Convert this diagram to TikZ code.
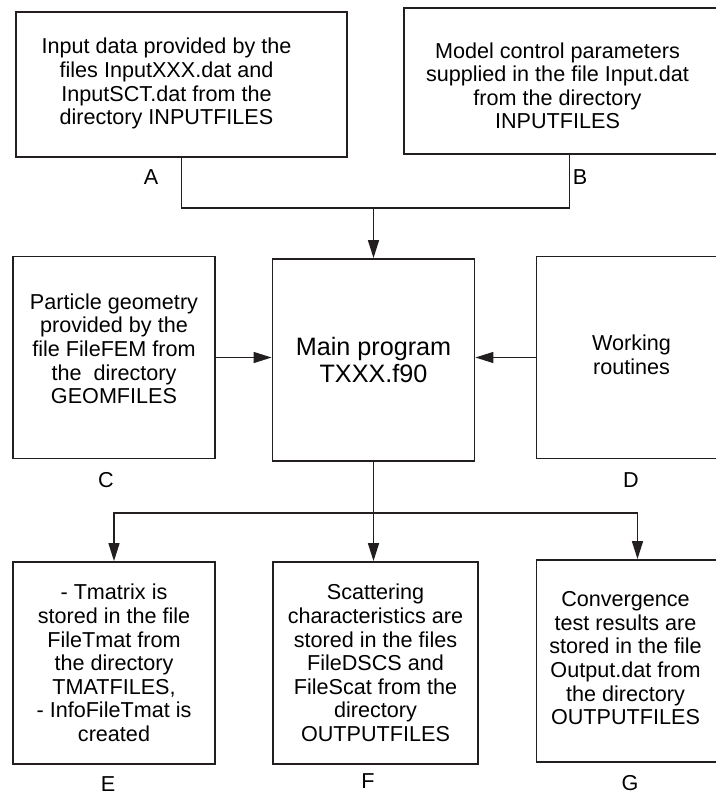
\documentclass[tikz,border=0pt]{standalone}
\usepackage{fontspec}
\setmainfont{Liberation Sans}
\usepackage{tikz}
\usetikzlibrary{arrows.meta, positioning, calc}
\definecolor{mydark}{RGB}{35,31,32}
% text block pushed left inside its box by #1
\newcommand{\lefttext}[2]{\begin{tabular}{@{}c@{}}#2\end{tabular}\hspace*{#1}}
\tikzset{
  fbox/.style={rectangle, draw=mydark, line width=0.9pt, inner sep=0pt,
    align=center, font=\fontsize{10.8}{11.8}\selectfont},
  wbox/.style={fbox, minimum width=165.5pt, minimum height=72.5pt},
  sbox/.style={fbox, minimum width=101pt, minimum height=101pt},
  mainbox/.style={sbox, font=\fontsize{12.6}{13.6}\selectfont},
  tag/.style={font=\fontsize{10.8}{11.8}\selectfont, inner sep=0pt},
  arrow/.style={-{Triangle[length=9pt,width=5.5pt]}, line width=0.7pt, color=mydark},
  line/.style={line width=0.7pt, color=mydark}
}

\begin{document}
\begin{tikzpicture}[x=0.5pt, y=-0.5pt]
  \useasboundingbox (0,0) rectangle (716,794);
  \clip (0,0) rectangle (716,794);

  % Input boxes
  \node[wbox] (A) at (181.5, 84.5) {\lefttext{15pt}{Input data provided by the\\files InputXXX.dat and\\InputSCT.dat from the\\directory INPUTFILES}};
  \node[wbox, minimum height=73pt] (B) at (569.5, 81) {\lefttext{12pt}{\\[-4pt]Model control parameters\\supplied in the file Input.dat\\from the directory\\INPUTFILES}};
  \node[tag] (labA) at (151, 177) {A};
  \node[tag] (labB) at (580, 177) {B};

  % Middle row
  \node[sbox] (C) at (114, 357.5) {\lefttext{0pt}{Particle geometry\\provided by the\\file FileFEM from\\the\ \ directory\\GEOMFILES\\[-6pt]\mbox{}}};
  \node[mainbox] (main) at (373.5, 360) {Main program\\TXXX.f90};
  \node[sbox] (D) at (637.5, 357.5) {\lefttext{6pt}{Working\\routines}};
  \node[tag] (labC) at (106, 480) {C};
  \node[tag] (labD) at (631, 480) {D};

  % Output boxes
  \node[sbox] (E) at (114, 663) {- Tmatrix is\\stored in the file\\FileTmat from\\the directory\\TMATFILES,\\- InfoFileTmat is\\created};
  \node[sbox, minimum width=102.5pt] (F) at (375.5, 663) {Scattering\\characteristics are\\stored in the files\\FileDSCS and\\FileScat from the\\directory\\OUTPUTFILES};
  \node[sbox] (G) at (637.5, 661) {\lefttext{12pt}{Convergence\\test results are\\stored in the file\\Output.dat from\\the directory\\OUTPUTFILES}};
  \node[tag] (labE) at (108, 784) {E};
  \node[tag] (labF) at (368, 781) {F};
  \node[tag] (labG) at (630, 783) {G};

  % Connectors into the main program
  \coordinate (join) at (373.5, 208);
  \draw[line] (A.south) |- (join) -| (B.south);
  \draw[arrow] (join) -- (main.north);
  \draw[arrow] (C.east) -- (C.east -| main.west);
  \draw[arrow] (D.west) -- (D.west -| main.east);

  % Connectors to the outputs
  \coordinate (split) at (373.5, 513);
  \draw[line] (main.south) -- (split);
  \draw[arrow] (split) -| (E.north);
  \draw[arrow] (split) -- (split |- F.north);
  \draw[arrow] (split) -| (G.north);
\end{tikzpicture}
\end{document}
